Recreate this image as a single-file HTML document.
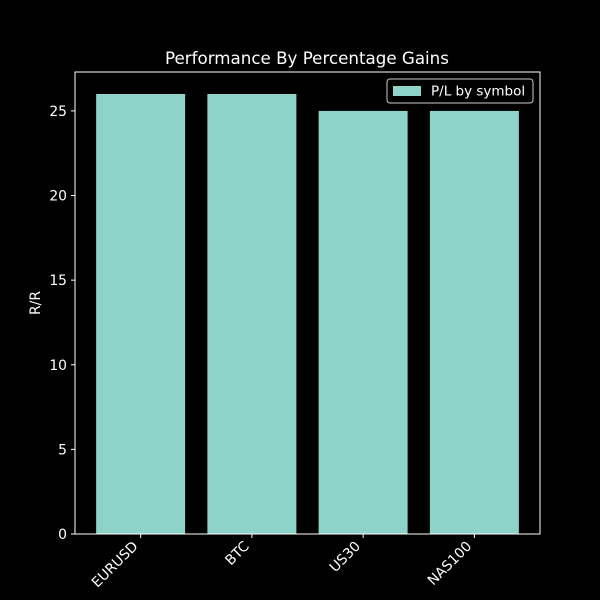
<!DOCTYPE html>
<html><head><meta charset="utf-8"><style>
body{margin:0;background:#000;}
svg{display:block;font-family:"DejaVu Sans","Liberation Sans",sans-serif;}
</style></head><body>
<svg id="chart" width="600" height="600" viewBox="0 0 600 600">
<rect width="600" height="600" fill="#000"/>
<text x="307" y="64" fill="#fff" font-size="16.7" text-anchor="middle">Performance By Percentage Gains</text>
<text transform="translate(40,303) rotate(-90)" fill="#fff" font-size="13.9" text-anchor="middle">R/R</text>
<g id="bars"></g>
<g id="yticks"></g>
<g id="xticks"></g>
<rect x="75" y="72" width="465" height="462" fill="none" stroke="#fff" stroke-width="1"/>
<g>
<rect x="387" y="79" width="146" height="24" rx="3" fill="#000" stroke="#ccc" stroke-width="1"/>
<rect x="393" y="86" width="28" height="10" fill="#8dd3c7"/>
<text x="431" y="95.5" fill="#fff" font-size="13.5">P/L by symbol</text>
</g>
</svg>
<script>
const categories=["EURUSD","BTC","US30","NAS100"];
const values=[26,26,25,25];
const yTicks=[0,5,10,15,20,25];
const ns="http://www.w3.org/2000/svg";
const X0=75,X1=540,Y0=534,Y1=72;
const xmin=-0.59,xmax=3.59,ymin=0,ymax=27.3;
function xs(v){return X0+(v-xmin)/(xmax-xmin)*(X1-X0);}
function ys(v){return Y0-(v-ymin)/(ymax-ymin)*(Y0-Y1);}
function mk(t,a){const e=document.createElementNS(ns,t);for(const k in a)e.setAttribute(k,a[k]);return e;}
const bars=document.getElementById('bars'),yt=document.getElementById('yticks'),xt=document.getElementById('xticks');
const bw=(xs(0.4)-xs(-0.4));
categories.forEach((c,i)=>{
 const r=mk('rect',{x:xs(i-0.4),y:ys(values[i]),width:bw,height:ys(0)-ys(values[i]),fill:'#8dd3c7'});
 
 
 bars.appendChild(r);
 const cx=xs(i);
 const tk=mk('line',{x1:cx,x2:cx,y1:Y0,y2:Y0+4,stroke:'#fff'});
 
 
 xt.appendChild(tk);
 const t=mk('text',{transform:`translate(${cx-2},${Y0+13}) rotate(-45)`,fill:'#fff','font-size':13.9,'text-anchor':'end'});
 t.textContent=c;
 
 
 xt.appendChild(t);
});
yTicks.forEach(v=>{
 const y=ys(v);
 const tk=mk('line',{x1:X0-4,x2:X0,y1:y,y2:y,stroke:'#fff'});
 
 
 yt.appendChild(tk);
 const t=mk('text',{x:X0-8,y:y+5,fill:'#fff','font-size':13.9,'text-anchor':'end'});
 t.textContent=v;
 
 
 yt.appendChild(t);
});
</script>
</body></html>
